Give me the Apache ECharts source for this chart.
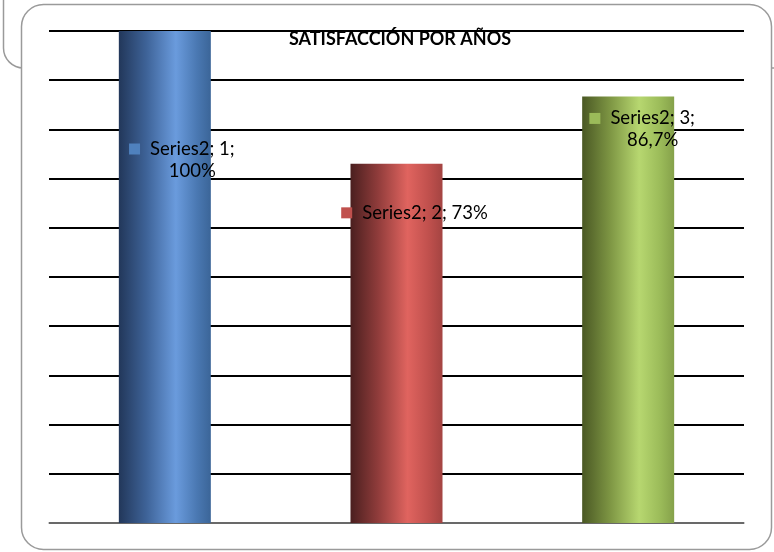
<!DOCTYPE html>
<html><head><meta charset="utf-8">
<script src="https://cdn.jsdelivr.net/npm/echarts@6/dist/echarts.min.js"></script>
<style>html,body{margin:0;padding:0;background:#fff}#c{width:774px;height:552px}</style>
</head><body><div id="c"></div>
<script>
var titleText = 'SATISFACCIÓN POR AÑOS';
var categories = ['1', '2', '3'];
var values = [1.0, 0.73, 0.867];
var valueLabels = ['100%', '73%', '86,7%'];
var seriesName = 'Series2';
var yTicks = [0, 0.1, 0.2, 0.3, 0.4, 0.5, 0.6, 0.7, 0.8, 0.9, 1.0];

var baseColors = ['#4f81bd', '#c0504d', '#9bbb59'];
var gradStops = [
  ['#22375a', '#3e6398', '#6a9bdd', '#4a78b2', '#3b6598'],
  ['#4a1f1f', '#903c3b', '#e0645f', '#c0504d', '#a44442'],
  ['#4a5824', '#7d9543', '#b7d770', '#9bbb59', '#85a14a']
];
var labelPos = [[63, 107], [64, 38], [60, 11]];
var twoLine = [true, false, true];

var font = 'Lato, "Open Sans", sans-serif';
var data = values.map(function (v, i) {
  var g = gradStops[i];
  return {
    value: v,
    itemStyle: {
      color: {
        type: 'linear', x: 0, y: 0, x2: 1, y2: 0,
        colorStops: [
          {offset: 0, color: g[0]}, {offset: 0.3, color: g[1]},
          {offset: 0.62, color: g[2]}, {offset: 0.85, color: g[3]}, {offset: 1, color: g[4]}
        ]
      }
    },
    label: {
      position: labelPos[i],
      formatter: twoLine[i]
        ? '{sq' + i + '|}{g|}' + seriesName + '; ' + categories[i] + ';\n{sp|}' + valueLabels[i]
        : '{sq' + i + '|}{g|}' + seriesName + '; ' + categories[i] + '; ' + valueLabels[i]
    }
  };
});

var rich = {g: {width: 10}, sp: {width: 21}};
baseColors.forEach(function (c, i) { rich['sq' + i] = {width: 11, height: 11, backgroundColor: c}; });

var chart = echarts.init(document.getElementById('c'));
chart.setOption({
  animation: false,
  graphic: [
    {type: 'rect', z: -20, shape: {x: 3.5, y: -40, width: 800, height: 108, r: 20}, style: {fill: '#fff', stroke: '#9a9a9a', lineWidth: 1.5}},
    {type: 'rect', z: -10, shape: {x: 21.5, y: 4.5, width: 750, height: 545, r: 22}, style: {fill: '#fff', stroke: '#9a9a9a', lineWidth: 1.5}}
  ],
  title: {
    text: titleText, left: 395, top: 25, textAlign: 'center',
    textStyle: {fontFamily: font, fontWeight: 'bold', fontSize: 18, color: '#000'}
  },
  grid: {left: 49, right: 30, top: 31, bottom: 29},
  xAxis: {
    type: 'category', data: categories,
    axisLine: {lineStyle: {color: '#8c8c8c', width: 1.5}},
    axisTick: {show: false}, axisLabel: {show: false}
  },
  yAxis: {
    type: 'value', min: yTicks[0], max: yTicks[yTicks.length - 1], interval: yTicks[1] - yTicks[0],
    axisLine: {show: false}, axisTick: {show: false}, axisLabel: {show: false},
    splitLine: {lineStyle: {color: '#000', width: 2}}
  },
  series: [{
    type: 'bar', name: seriesName, data: data, barWidth: 92,
    label: {
      show: true, align: 'center', verticalAlign: 'top',
      fontFamily: font, fontSize: 18.5, color: '#000', lineHeight: 22, rich: rich
    }
  }]
});
</script></body></html>
